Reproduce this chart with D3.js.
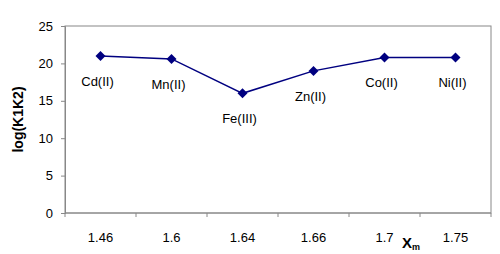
<!DOCTYPE html>
<html>
<head>
<meta charset="utf-8">
<script src="https://cdn.jsdelivr.net/npm/d3@7"></script>
<style>
  body { margin:0; background:#fff; }
  svg text { font-family: "Liberation Sans", Arial, sans-serif; fill:#000; }
</style>
</head>
<body>
<svg id="chart" width="500" height="254"></svg>
<script>
// --- data ---
const xLabels = ['1.46', '1.6', '1.64', '1.66', '1.7', '1.75'];
const ions = ['Cd(II)', 'Mn(II)', 'Fe(III)', 'Zn(II)', 'Co(II)', 'Ni(II)'];
const logK = [21.0, 20.6, 16.0, 19.0, 20.8, 20.8];
const yTicks = [0, 5, 10, 15, 20, 25];

const svg = d3.select('#chart');
const m = { left:65, right:491, top:26, bottom:213 };

const x = d3.scaleBand().domain(xLabels).range([m.left, m.right]).paddingInner(0).paddingOuter(0);
const y = d3.scaleLinear().domain([0, 25]).range([m.bottom, m.top]);
const cx = d => x(d) + x.bandwidth()/2;

// plot frame
svg.append('rect')
  .attr('x', m.left).attr('y', m.top)
  .attr('width', m.right - m.left).attr('height', m.bottom - m.top)
  .attr('fill', 'none').attr('stroke', '#888').attr('stroke-width', 1);

// y axis
const yAxis = svg.append('g').attr('transform', `translate(${m.left},0)`)
  .call(d3.axisLeft(y).tickValues(yTicks).tickSize(4).tickPadding(8));
yAxis.select('.domain').attr('stroke', '#888');
yAxis.selectAll('line').attr('stroke', '#888');
yAxis.selectAll('text').style('font-size', '13px');

// x axis (ticks at band edges)
const xAxis = svg.append('g').attr('transform', `translate(0,${m.bottom})`);
xAxis.append('line').attr('x1', m.left).attr('x2', m.right).attr('stroke', '#888');
const edges = xLabels.map(d => x(d)).concat([m.right]);
xAxis.selectAll('line.tk').data(edges).join('line').attr('class', 'tk')
  .attr('x1', d => d).attr('x2', d => d).attr('y1', 0).attr('y2', 4).attr('stroke', '#888');
xAxis.selectAll('text').data(xLabels).join('text')
  .attr('x', d => cx(d)).attr('y', 29)
  .attr('text-anchor', 'middle').style('font-size', '13px')
  .text(d => d);

// line + markers
const pts = xLabels.map((d, i) => ({ x: d, v: logK[i], ion: ions[i] }));
svg.append('path').datum(pts)
  .attr('fill', 'none').attr('stroke', '#000080').attr('stroke-width', 1.5)
  .attr('d', d3.line().x(d => cx(d.x)).y(d => y(d.v)));

svg.selectAll('path.mk').data(pts).join('path').attr('class', 'mk')
  .attr('transform', d => `translate(${cx(d.x)},${y(d.v)})`)
  .attr('d', 'M0,-5L5,0L0,5L-5,0Z')
  .attr('fill', '#000080');

// ion labels under points
svg.selectAll('text.ion').data(pts).join('text').attr('class', 'ion')
  .attr('x', d => cx(d.x) - 3).attr('y', d => y(d.v) + 30)
  .attr('text-anchor', 'middle').style('font-size', '13px')
  .text(d => d.ion);

// axis titles
svg.append('text')
  .attr('transform', `translate(23,${(m.top + m.bottom)/2}) rotate(-90)`)
  .attr('text-anchor', 'middle').style('font-size', '14px').style('font-weight', 'bold')
  .text('log(K1K2)');

const xt = svg.append('text').attr('x', 402).attr('y', 248)
  .style('font-size', '15px').style('font-weight', 'bold');
xt.append('tspan').text('X');
xt.append('tspan').attr('dy', 2).style('font-size', '9px').text('m');
</script>
</body>
</html>
